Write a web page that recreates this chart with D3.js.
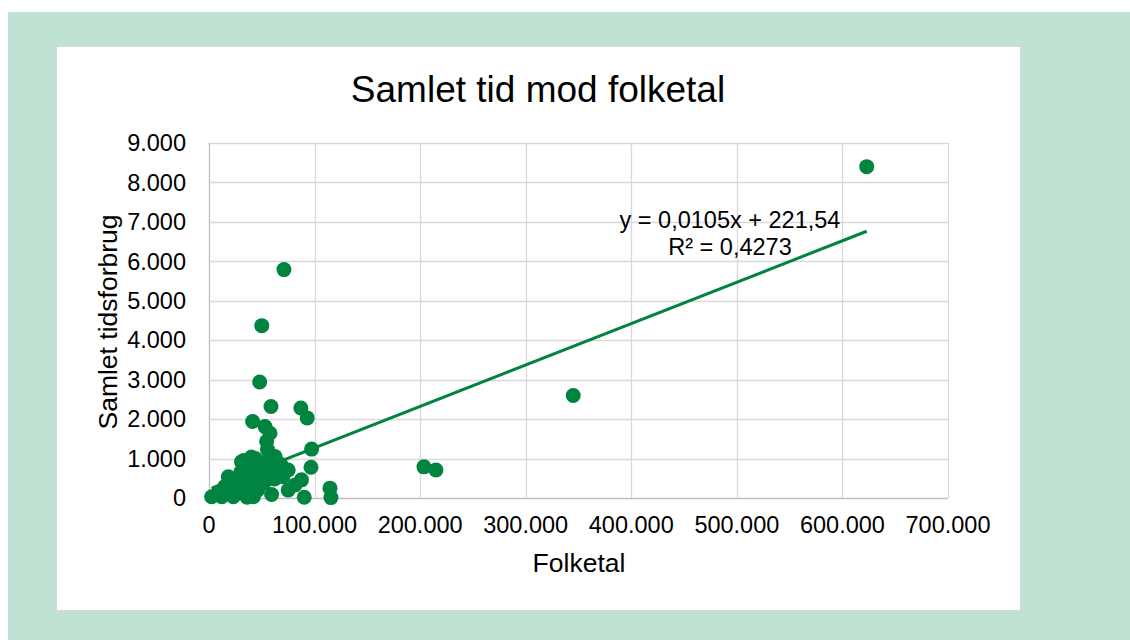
<!DOCTYPE html>
<html>
<head>
<meta charset="utf-8">
<script src="https://cdn.jsdelivr.net/npm/d3@7"></script>
<style>
  body { margin: 0; background: #fff; }
  text { font-family: "Liberation Sans", Arial, sans-serif; fill: #000; }
</style>
</head>
<body>
<svg id="chart" width="1130" height="640"></svg>
<script>
// folketal (x) and samlet tidsforbrug (y)
var folketal = [623000, 345000, 203600, 215000, 71000, 50000, 48000, 58700, 87000, 93000,
  41300, 53000, 57800, 54600, 55400, 62500, 97200, 96600, 30800, 40200,
  35500, 18300, 75000, 87600, 81400, 75000, 59300, 90200, 114600, 115500,
  2500, 12000, 23000, 42000, 15000, 27700, 50000, 65600, 53000, 43600,
  33000, 37000, 45000, 60000, 68000, 28000, 20000, 8000, 33000, 48000,
  62000, 70000, 25000, 38000, 56000, 44000, 30000, 22000, 36000, 46000,
  52000, 64000, 57000, 40000];
var tid = [8400, 2600, 790, 710, 5790, 4370, 2940, 2320, 2280, 2030,
  1940, 1810, 1640, 1440, 1230, 1050, 1240, 780, 920, 1040,
  710, 540, 710, 460, 330, 200, 90, 20, 250, 10,
  30, 30, 30, 30, 290, 370, 460, 630, 790, 790,
  950, 560, 620, 700, 850, 200, 150, 120, 120, 350,
  480, 540, 450, 300, 600, 1000, 650, 80, 20, 200,
  380, 900, 1000, 150];
var xTicks = [0, 100000, 200000, 300000, 400000, 500000, 600000, 700000];
var yTicks = [0, 1000, 2000, 3000, 4000, 5000, 6000, 7000, 8000, 9000];
var slope = 0.0105, intercept = 221.54;
var eqLines = ["y = 0,0105x + 221,54", "R\u00b2 = 0,4273"];

var green = "#00843f";
var svg = d3.select("#chart");

// backgrounds
svg.append("rect").attr("x", 8).attr("y", 12).attr("width", 1122).attr("height", 628).attr("fill", "#bfe2d3");
svg.append("rect").attr("x", 56.5).attr("y", 46.5).attr("width", 964).attr("height", 564)
  .attr("fill", "#fff").attr("stroke", "#d9d9d9");

var x = d3.scaleLinear().domain([0, 700000]).range([209, 948]);
var y = d3.scaleLinear().domain([0, 9000]).range([498, 143]);

var fmt = function(v) { return v === 0 ? "0" : d3.format(",")(v).replace(/,/g, "."); };

// gridlines
svg.append("g").selectAll("line").data(yTicks).enter().append("line")
  .attr("x1", x(0)).attr("x2", x(700000))
  .attr("y1", d => Math.round(y(d)) + 0.5).attr("y2", d => Math.round(y(d)) + 0.5)
  .attr("stroke", d => d === 0 ? "#bfbfbf" : "#d9d9d9").attr("stroke-width", 1.3);
svg.append("g").selectAll("line").data(xTicks).enter().append("line")
  .attr("y1", y(0)).attr("y2", y(9000))
  .attr("x1", d => Math.round(x(d)) + 0.5).attr("x2", d => Math.round(x(d)) + 0.5)
  .attr("stroke", d => d === 0 ? "#bfbfbf" : "#d9d9d9").attr("stroke-width", 1.3);

// tick labels
svg.append("g").selectAll("text").data(yTicks).enter().append("text")
  .attr("x", 186).attr("y", d => y(d)).attr("dy", "0.35em")
  .attr("text-anchor", "end").attr("font-size", 23.5).text(fmt);
svg.append("g").selectAll("text").data(xTicks).enter().append("text")
  .attr("x", d => x(d)).attr("y", 533)
  .attr("text-anchor", "middle").attr("font-size", 23.5).text(fmt);

// axis titles and title
svg.append("text").attr("x", 579).attr("y", 572).attr("text-anchor", "middle")
  .attr("font-size", 26.5).text("Folketal");
svg.append("text").attr("transform", "translate(117,322) rotate(-90)").attr("text-anchor", "middle")
  .attr("font-size", 26.5).text("Samlet tidsforbrug");
svg.append("text").attr("x", 538).attr("y", 102).attr("text-anchor", "middle")
  .attr("font-size", 37).text("Samlet tid mod folketal");

// points
var pts = folketal.map((f, i) => [f, tid[i]]);
svg.append("g").selectAll("circle").data(pts).enter().append("circle")
  .attr("cx", d => x(d[0])).attr("cy", d => y(d[1])).attr("r", 7.5)
  .attr("fill", green);

// trendline
var xmin = d3.min(folketal), xmax = d3.max(folketal);
svg.append("line")
  .attr("x1", x(xmin)).attr("y1", y(slope * xmin + intercept))
  .attr("x2", x(xmax)).attr("y2", y(slope * xmax + intercept))
  .attr("stroke", green).attr("stroke-width", 3);

// equation label
svg.append("g").selectAll("text").data(eqLines).enter().append("text")
  .attr("x", 730).attr("y", (d, i) => 228 + i * 27).attr("text-anchor", "middle")
  .attr("font-size", 23.5).text(d => d);
</script>
</body>
</html>
